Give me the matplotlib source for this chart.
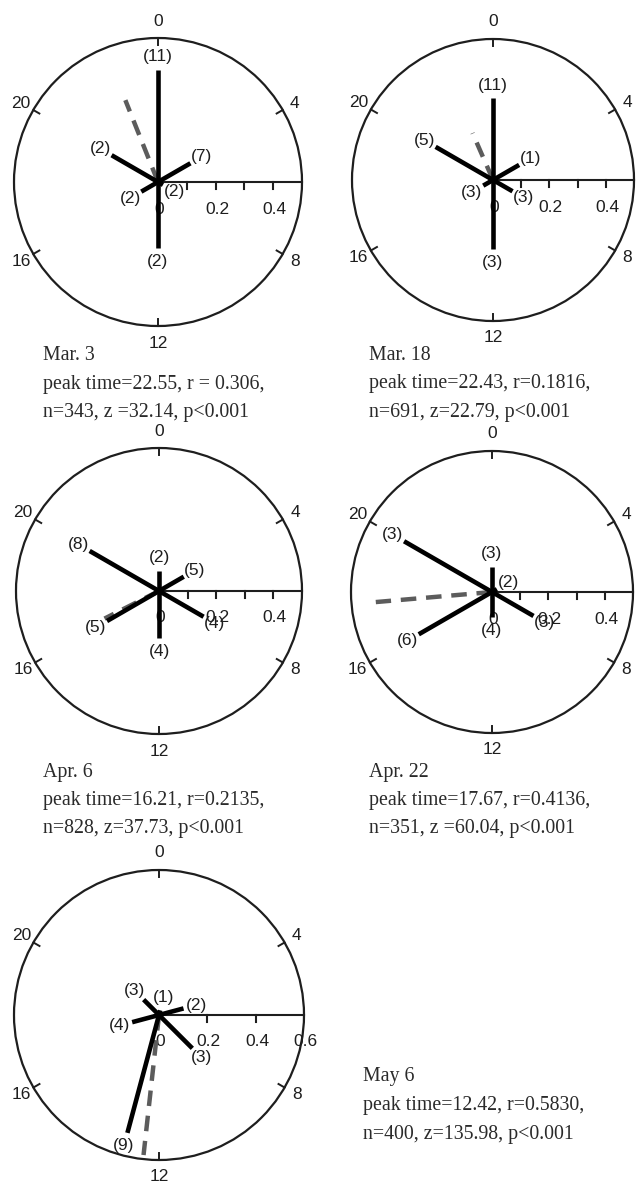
import numpy as np
import matplotlib
matplotlib.use("Agg")
import matplotlib.pyplot as plt
from matplotlib.patches import Circle

W, H = 636, 1183
SANS = "Liberation Sans"
SERIF = "Liberation Serif"
INK = "#1e1e1e"

# Vector directions (hours), lengths and counts for each survey date
mar3_hours = [0, 4, 8, 12, 16, 20]
mar3_len = [0.39, 0.13, 0.02, 0.23, 0.067, 0.186]
mar3_n = [11, 7, 2, 2, 2, 2]

mar18_hours = [0, 4, 8, 12, 16, 20]
mar18_len = [0.29, 0.107, 0.08, 0.245, 0.04, 0.235]
mar18_n = [11, 1, 3, 3, 3, 5]

apr6_hours = [0, 4, 8, 12, 16, 20]
apr6_len = [0.07, 0.10, 0.18, 0.165, 0.21, 0.28]
apr6_n = [2, 5, 4, 4, 5, 8]

apr22_hours = [0, 4, 8, 12, 16, 20]
apr22_len = [0.09, 0.02, 0.17, 0.09, 0.30, 0.36]
apr22_n = [3, 2, 3, 4, 6, 3]

may6_hours = [1, 5, 9, 13, 17, 21]
may6_len = [0.02, 0.105, 0.195, 0.505, 0.115, 0.09]
may6_n = [1, 2, 3, 9, 4, 3]

dates = ["Mar. 3", "Mar. 18", "Apr. 6", "Apr. 22", "May 6"]
peak_time = [22.55, 22.43, 16.21, 17.67, 12.42]
mean_r = [0.306, 0.1816, 0.2135, 0.4136, 0.5830]
r_text = ["r = 0.306", "r=0.1816", "r=0.2135", "r=0.4136", "r=0.5830"]
stat_text = ["n=343, z =32.14, p<0.001", "n=691, z=22.79, p<0.001",
             "n=828, z=37.73, p<0.001", "n=351, z =60.04, p<0.001",
             "n=400, z=135.98, p<0.001"]
r_max = [0.5, 0.5, 0.5, 0.5, 0.6]
r_step = [0.1, 0.1, 0.1, 0.1, 0.2]
hour_ticks = [0, 4, 8, 12, 16, 20]

# panel centre / radius in pixels, caption anchor in pixels
centers = [(158, 182, 144), (493, 180, 141), (159, 591, 143),
           (492, 592, 141), (159, 1015, 145)]
captions = [(43, 356), (369, 355), (43, 772), (369, 772), (363, 1077)]


def xy(hour, r):
    t = np.asarray(hour) / 24.0 * 2 * np.pi
    return np.asarray(r) * np.sin(t), np.asarray(r) * np.cos(t)


def draw_panel(fig, centre, rmax, step, hours, lengths, counts, peak, rbar):
    cx, cy, rad = centre
    half = 185
    ax = fig.add_axes([(cx - half) / W, 1 - (cy + half) / H,
                       2 * half / W, 2 * half / H])
    ax.set_axis_off()
    ax.patch.set_alpha(0)
    s = rmax / rad  # data units per pixel
    lim = half * s
    ax.set_xlim(-lim, lim)
    ax.set_ylim(-lim, lim)

    ax.add_patch(Circle((0, 0), rmax, fill=False, lw=1.6, color=INK, zorder=2))

    # hour ticks and labels round the rim
    for h in hour_ticks:
        x0, y0 = xy(h, rmax)
        x1, y1 = xy(h, rmax - 7 * s)
        ax.plot([x0, x1], [y0, y1], color=INK, lw=1.4, zorder=2)
        c = abs(np.cos(h / 24 * 2 * np.pi))
        lx, ly = xy(h, rmax + (11 + 6 * c) * s)
        ax.text(lx, ly, str(h), ha="center", va="center", fontsize=12.5,
                family=SANS, color=INK)

    # radial scale along the 6 o'clock direction
    ax.plot([0, rmax], [0, 0], color=INK, lw=1.5, zorder=2)
    for t in np.arange(step, rmax - 1e-6, step):
        ax.plot([t, t], [0, -7 * s], color=INK, lw=1.5, zorder=2)
    for t in np.arange(0, rmax + 1e-6, 0.2):
        lab = "0" if t == 0 else f"{t:.1f}"
        ax.text(t + 1.5 * s, -27 * s, lab, ha="center", va="center",
                fontsize=12.5, family=SANS, color=INK, zorder=1)

    # hourly vectors
    for h, r, n in zip(hours, lengths, counts):
        x, y = xy(h, r)
        ax.plot([0, x], [0, y], color="black", lw=3.3,
                solid_capstyle="butt", zorder=4)
        lx, ly = xy(h, r + 13 * s)
        ax.text(lx, ly, f"({n})", ha="center", va="center", fontsize=12.5,
                family=SANS, color=INK, zorder=5)

    # mean vector
    x, y = xy(peak, rbar)
    ax.plot([0, x], [0, y], color="#5c5c5c", lw=3.2,
            linestyle=(0, (3.5, 2.2)), zorder=3)
    return ax


fig = plt.figure(figsize=(W / 100, H / 100), dpi=100)

panels = [
    (mar3_hours, mar3_len, mar3_n),
    (mar18_hours, mar18_len, mar18_n),
    (apr6_hours, apr6_len, apr6_n),
    (apr22_hours, apr22_len, apr22_n),
    (may6_hours, may6_len, may6_n),
]

for i, (hrs, lens, cnts) in enumerate(panels):
    draw_panel(fig, centers[i], r_max[i], r_step[i], hrs, lens, cnts,
               peak_time[i], mean_r[i])
    tx, ty = captions[i]
    lines = [dates[i],
             f"peak time={peak_time[i]:.2f}, {r_text[i]},",
             stat_text[i]]
    for k, line in enumerate(lines):
        fig.text(tx / W, 1 - (ty + 28.5 * k) / H, line, ha="left",
                 va="center", fontsize=14.3, family=SERIF, color="#2a2a2a")

fig.savefig("out.png", dpi=100, facecolor="white")
